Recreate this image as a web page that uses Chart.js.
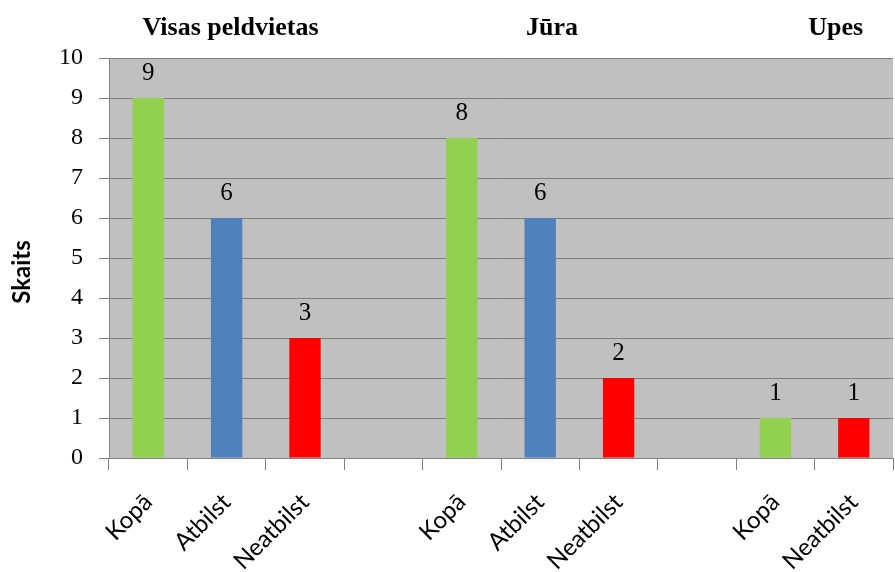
<!DOCTYPE html>
<html>
<head>
<meta charset="utf-8">
<script src="https://cdn.jsdelivr.net/npm/chart.js@4.4.1/dist/chart.umd.min.js"></script>
<style>
    html, body { margin: 0; padding: 0; background: #fff; }
    #wrap { width: 895px; height: 572px; }
</style>
</head>
<body>
<div id="wrap"><canvas id="peldvietas_chart" width="895" height="572"></canvas></div>
<script>
// Categories (empty slots separate the three groups)
const categories = ['Kopā', 'Atbilst', 'Neatbilst', '', 'Kopā', 'Atbilst', 'Neatbilst', '', 'Kopā', 'Neatbilst'];
const counts = [9, 6, 3, null, 8, 6, 2, null, 1, 1];
const barColors = ['#92d050', '#4f81bd', '#ff0000', null, '#92d050', '#4f81bd', '#ff0000', null, '#92d050', '#ff0000'];
const yTicks = [0, 1, 2, 3, 4, 5, 6, 7, 8, 9, 10];

// Group headings: text and the category index they sit over
const groupTitles = ['Visas peldvietas', 'Jūra', 'Upes'];
const groupTitleAt = [1.05, 5.15, 8.77];

const GRID = '#808080';

/**
 * Grey plot background
 */
const plotBackground = {
    id: 'plotBackground',
    beforeDraw(chart) {
        const a = chart.chartArea;
        const ctx = chart.ctx;
        ctx.save();
        ctx.fillStyle = '#c0c0c0';
        ctx.fillRect(a.left, a.top, a.right - a.left, a.bottom - a.top);
        ctx.restore();
    }
};

/**
 * Value labels above bars, group headings and y axis title
 */
const labelsPlugin = {
    id: 'labelsPlugin',
    afterDatasetsDraw(chart) {
        const ctx = chart.ctx;
        const meta = chart.getDatasetMeta(0);
        ctx.save();
        ctx.fillStyle = '#000';
        ctx.textAlign = 'center';
        ctx.textBaseline = 'middle';
        ctx.font = '25px "Liberation Serif", serif';
        meta.data.forEach((bar, i) => {
            if (counts[i] === null) return;
            ctx.fillText(String(counts[i]), bar.x, bar.y - 25);
        });

        const x = chart.scales.x;
        ctx.font = 'bold 26px "Liberation Serif", serif';
        groupTitles.forEach((t, i) => {
            ctx.fillText(t, x.getPixelForValue(groupTitleAt[i]), 28);
        });

        ctx.font = 'bold 24px Lato, sans-serif';
        ctx.translate(22, 272);
        ctx.rotate(-Math.PI / 2);
        ctx.fillText('Skaits', 0, 0);
        ctx.restore();
    }
};

new Chart(document.getElementById('peldvietas_chart'), {
    type: 'bar',
    data: {
        labels: categories,
        datasets: [{
            data: counts,
            backgroundColor: barColors,
            barPercentage: 0.4,
            categoryPercentage: 1.0
        }]
    },
    options: {
        responsive: false,
        animation: false,
        layout: {
            padding: { top: 58, right: 2, left: 0, bottom: 0 }
        },
        plugins: {
            legend: { display: false },
            title: { display: false },
            tooltip: { enabled: false }
        },
        scales: {
            x: {
                offset: true,
                afterFit: function(scale) { scale.height = 114; },
                grid: {
                    drawOnChartArea: false,
                    drawTicks: true,
                    tickLength: 12,
                    color: GRID,
                    offset: true
                },
                border: { color: GRID, width: 1 },
                ticks: {
                    autoSkip: false,
                    maxRotation: 45,
                    minRotation: 45,
                    padding: 18,
                    color: '#000',
                    font: { family: 'Lato, sans-serif', size: 24 }
                }
            },
            y: {
                min: 0,
                max: 10,
                afterFit: function(scale) { scale.width = 109; },
                afterBuildTicks: function(scale) {
                    scale.ticks = yTicks.map(v => ({ value: v }));
                },
                grid: {
                    color: GRID,
                    lineWidth: 1,
                    tickLength: 10
                },
                border: { color: GRID, width: 1 },
                ticks: {
                    padding: 16,
                    color: '#000',
                    font: { family: '"Liberation Serif", serif', size: 24 }
                }
            }
        }
    },
    plugins: [plotBackground, labelsPlugin]
});
</script>
</body>
</html>
